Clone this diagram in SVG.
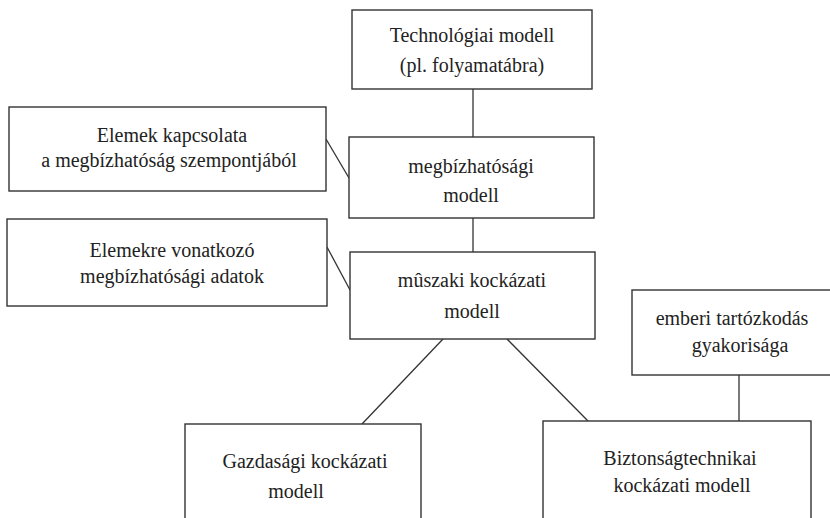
<svg xmlns="http://www.w3.org/2000/svg" width="830" height="518" viewBox="0 0 830 518">
<style>
.box{fill:#fff;stroke:#333;stroke-width:1.4}
.ln{fill:none;stroke:#333;stroke-width:1.3}
text{font-family:'Liberation Serif','Tinos','DejaVu Serif','Noto Serif',serif;font-size:20px;fill:#222;text-anchor:middle}
</style>
<rect width="830" height="518" fill="#fff"/>
<g id="connectors">
<line class="ln" x1="473" y1="89" x2="473" y2="137"/>
<line class="ln" x1="473" y1="218" x2="473" y2="252"/>
<line class="ln" x1="326" y1="139" x2="349" y2="178"/>
<line class="ln" x1="327" y1="247" x2="350" y2="290"/>
<line class="ln" x1="443" y1="339" x2="362" y2="424"/>
<line class="ln" x1="507" y1="339" x2="588" y2="421"/>
<line class="ln" x1="739" y1="375" x2="739" y2="421"/>
</g>
<g id="technologiai">
<rect class="box" x="352" y="10" width="240" height="79"/>
<text x="472" y="42" font-family="Liberation Serif, serif">Technológiai modell</text>
<text x="472" y="72" font-family="Liberation Serif, serif">(pl. folyamatábra)</text>
</g>
<g id="kapcsolata">
<rect class="box" x="9" y="107" width="317" height="84"/>
<text x="172" y="142">Elemek kapcsolata</text>
<text x="169" y="167">a megbízhatóság szempontjából</text>
</g>
<g id="megbizhatosagi">
<rect class="box" x="349" y="137" width="245" height="81"/>
<text x="471" y="173">megbízhatósági</text>
<text x="471" y="202">modell</text>
</g>
<g id="adatok">
<rect class="box" x="7" y="219" width="320" height="87"/>
<text x="172" y="257">Elemekre vonatkozó</text>
<text x="172" y="283">megbízhatósági adatok</text>
</g>
<g id="muszaki">
<rect class="box" x="350" y="252" width="245" height="87"/>
<text x="472" y="287">mûszaki kockázati</text>
<text x="472" y="318">modell</text>
</g>
<g id="emberi">
<rect class="box" x="632" y="290" width="205" height="85"/>
<text x="732" y="325">emberi tartózkodás</text>
<text x="740" y="352">gyakorisága</text>
</g>
<g id="gazdasagi">
<rect class="box" x="185" y="424" width="236" height="110"/>
<text x="305" y="468">Gazdasági kockázati</text>
<text x="296" y="498">modell</text>
</g>
<g id="biztonsag">
<rect class="box" x="543" y="421" width="268" height="110"/>
<text x="680" y="465">Biztonságtechnikai</text>
<text x="682" y="492">kockázati modell</text>
</g>
</svg>
